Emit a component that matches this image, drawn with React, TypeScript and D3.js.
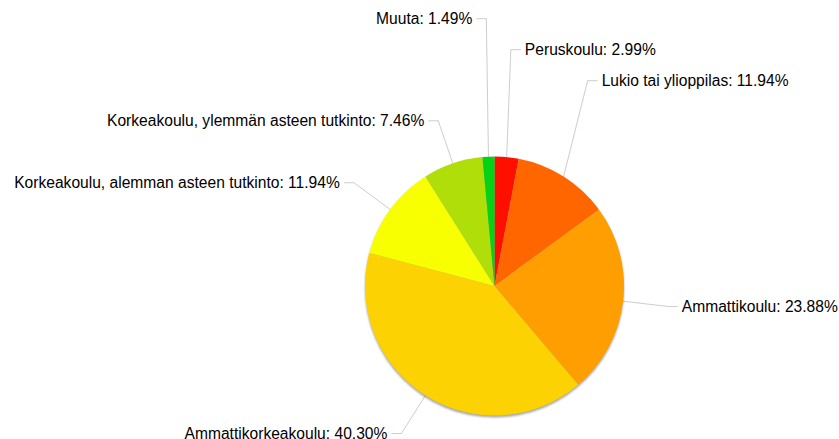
import React from "react";
import * as d3 from "d3";

const categories = [
  "Peruskoulu",
  "Lukio tai ylioppilas",
  "Ammattikoulu",
  "Ammattikorkeakoulu",
  "Korkeakoulu, alemman asteen tutkinto",
  "Korkeakoulu, ylemmän asteen tutkinto",
  "Muuta",
];
const shares = [2.99, 11.94, 23.88, 40.3, 11.94, 7.46, 1.49];
const colors = ["#FF0F00", "#FF6600", "#FF9E01", "#FCD202", "#F8FF01", "#B0DE09", "#04D215"];

const width = 839;
const height = 439;
const cx = 494.5;
const cy = 286;
const radius = 129.5;
const labelOffset = 45;
const tick = 10;
const gap = 24;
const rowHeight = 31;

type Label = {
  i: number;
  mid: number;
  ex: number;
  ey: number;
  bx: number;
  by: number;
  right: boolean;
  text: string;
};

const App = () => {
  const pie = d3
    .pie<number>()
    .sort(null)
    .value((d) => d)
    .startAngle(0)
    .endAngle(2 * Math.PI);
  const arcs = pie(shares);
  const arc = d3.arc<d3.PieArcDatum<number>>().innerRadius(0).outerRadius(radius);

  const labels: Label[] = arcs.map((a, i) => {
    const mid = (a.startAngle + a.endAngle) / 2;
    const s = Math.sin(mid);
    const c = Math.cos(mid);
    return {
      i,
      mid: mid > Math.PI ? mid - 2 * Math.PI : mid,
      ex: cx + radius * s,
      ey: cy - radius * c,
      bx: cx + (radius + labelOffset) * s,
      by: cy - (radius + labelOffset) * c,
      right: s >= 0,
      text: `${categories[i]}: ${d3.format(".2f")(shares[i])}%`,
    };
  });

  // labels crowding round 12 o'clock are stacked upwards in clockwise order
  const top = labels
    .filter((l) => l.by < cy && l.bx >= cx - 40)
    .sort((a, b) => a.mid - b.mid);
  if (top.length > 1) {
    const last = top[top.length - 1];
    const others = d3.min(top.slice(0, -1), (l) => l.by) ?? last.by;
    let y = Math.min(last.by, others - rowHeight);
    for (let k = top.length - 1; k >= 0; k--) {
      top[k].by = y;
      y -= rowHeight;
    }
  }

  // keep the remaining labels on each side apart
  [true, false].forEach((side) => {
    const rest = labels.filter((l) => l.right === side && !top.includes(l));
    const upper = rest.filter((l) => l.by < cy).sort((a, b) => b.by - a.by);
    for (let k = 1; k < upper.length; k++) {
      if (upper[k].by > upper[k - 1].by - gap) upper[k].by = upper[k - 1].by - gap;
    }
    const lower = rest.filter((l) => l.by >= cy).sort((a, b) => a.by - b.by);
    for (let k = 1; k < lower.length; k++) {
      if (lower[k].by < lower[k - 1].by + gap) lower[k].by = lower[k - 1].by + gap;
    }
  });

  return (
    <svg
      width={width}
      height={height}
      style={{ position: "absolute", left: 0, top: 0, background: "#fff" }}
      fontFamily="'Liberation Sans', Arial, Helvetica, sans-serif"
    >
      <defs>
        <filter id="shadow" x="-10%" y="-10%" width="120%" height="120%">
          <feGaussianBlur stdDeviation="1.2" />
        </filter>
      </defs>
      <circle cx={cx} cy={cy + 2} r={radius} fill="#000" opacity={0.35} filter="url(#shadow)" />
      <g transform={`translate(${cx},${cy})`}>
        {arcs.map((a, i) => (
          <path key={i} d={arc(a) || ""} fill={colors[i]} />
        ))}
      </g>
      <g>
        {labels.map((l) => {
          const hx = l.right ? l.bx + tick : l.bx - tick;
          return (
            <g key={l.i}>
              <polyline
                points={`${l.ex},${l.ey} ${l.bx},${l.by} ${hx},${l.by}`}
                fill="none"
                stroke="#000"
                strokeOpacity={0.2}
                strokeWidth={1}
              />
              <text
                x={l.right ? hx + 4 : hx - 4}
                y={l.by}
                dy="0.35em"
                textAnchor={l.right ? "start" : "end"}
                fontSize={15.6}
                fill="#000"
              >
                {l.text}
              </text>
            </g>
          );
        })}
      </g>
    </svg>
  );
};

export default App;
